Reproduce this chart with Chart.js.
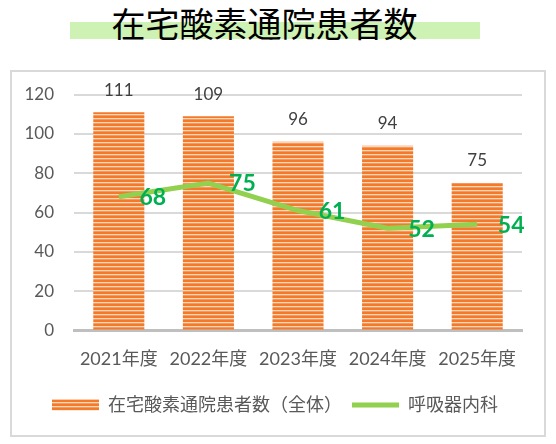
<!DOCTYPE html>
<html><head><meta charset="utf-8">
<script src="https://cdn.jsdelivr.net/npm/chart.js@4"></script>
<style>
html,body{margin:0;padding:0;background:#fff;}
#wrap{position:relative;width:556px;height:444px;overflow:hidden;background:#fff;}
#band{position:absolute;left:70px;top:22px;width:410px;height:17px;background:#CDF2B3;}
#title{position:absolute;left:0;top:4px;width:529px;text-align:center;font:34px/38px 'Noto Sans CJK JP',sans-serif;color:#000;}
#frame{position:absolute;left:10px;top:70px;width:536px;height:367px;border:2px solid #D9D9D9;box-sizing:border-box;}
#cv{position:absolute;left:0;top:0;}
</style></head>
<body>
<div id="wrap">
  <div id="band"></div>
  <div id="title">在宅酸素通院患者数</div>
  <div id="frame"></div>
  <canvas id="cv" width="556" height="444"></canvas>
</div>
<script>
const categories = ['2021年度', '2022年度', '2023年度', '2024年度', '2025年度'];
const totalPatients = [111, 109, 96, 94, 75];
const respiratory = [68, 75, 61, 52, 54];
const seriesNames = ['在宅酸素通院患者数（全体）', '呼吸器内科'];
const yMin = 0, yMax = 120, yStep = 20;

const FONT = "Lato, 'Noto Sans CJK JP', sans-serif";

function makePattern() {
  const c = document.createElement('canvas');
  c.width = 4; c.height = 4;
  const g = c.getContext('2d');
  const rows = ['#F37A2A', '#F37A2A', '#FBD6B9', '#F59A5C'];
  rows.forEach((col, i) => { g.fillStyle = col; g.fillRect(0, i, 4, 1); });
  return g.createPattern(c, 'repeat');
}
const barPattern = makePattern();

const labelPlugin = {
  id: 'valueLabels',
  afterLayout(chart) {
    const l = chart.legend;
    if (l) { l.left += 14; l.right += 14; }
  },
  afterDatasetsDraw(chart) {
    const ctx = chart.ctx;
    ctx.save();
    ctx.textAlign = 'center';
    ctx.textBaseline = 'middle';
    const bm = chart.getDatasetMeta(0);
    ctx.font = '17px ' + FONT;
    ctx.fillStyle = '#404040';
    bm.data.forEach((el, i) => ctx.fillText(String(totalPatients[i]), el.x, el.y - 22));
    const lm = chart.getDatasetMeta(1);
    ctx.font = 'bold 23px ' + FONT;
    ctx.fillStyle = '#00B050';
    lm.data.forEach((el, i) => ctx.fillText(String(respiratory[i]), el.x + 34, el.y + 1));
    ctx.restore();
  }
};

new Chart(document.getElementById('cv'), {
  data: {
    labels: categories,
    datasets: [
      {
        type: 'bar',
        label: seriesNames[0],
        data: totalPatients,
        backgroundColor: barPattern,
        borderWidth: 0,
        categoryPercentage: 1,
        barPercentage: 0.57,
        order: 1
      },
      {
        type: 'line',
        label: seriesNames[1],
        data: respiratory,
        borderColor: '#92D050',
        borderWidth: 5,
        pointRadius: 0,
        tension: 0,
        fill: false,
        order: 0
      }
    ]
  },
  options: {
    responsive: false,
    animation: false,
    layout: { padding: { left: 0, right: 34, top: 94.5, bottom: 20 } },
    plugins: {
      tooltip: { enabled: false },
      title: { display: false },
      legend: {
        position: 'bottom',
        labels: {
          usePointStyle: true,
          pointStyleWidth: 47,
          boxHeight: 11,
          padding: 10,
          color: '#595959',
          font: { size: 18, family: FONT },
          generateLabels() {
            return [
              { text: seriesNames[0], fillStyle: barPattern, strokeStyle: 'rgba(0,0,0,0)', lineWidth: 0, pointStyle: 'rect', datasetIndex: 0, hidden: false, fontColor: '#595959' },
              { text: seriesNames[1], fillStyle: '#92D050', strokeStyle: '#92D050', lineWidth: 5, pointStyle: 'line', datasetIndex: 1, hidden: false, fontColor: '#595959' }
            ];
          }
        }
      }
    },
    scales: {
      x: {
        grid: { display: false },
        border: { display: true, color: '#BFBFBF', width: 3 },
        ticks: { color: '#595959', font: { size: 18, family: FONT }, padding: 10, maxRotation: 0 },
        afterFit(scale) { scale.height = 55.5; }
      },
      y: {
        min: yMin, max: yMax,
        grid: {
          drawTicks: false,
          lineWidth: 2,
          color: (c) => (c.tick && c.tick.value === 0) ? 'rgba(0,0,0,0)' : '#D9D9D9'
        },
        border: { display: false },
        ticks: { stepSize: yStep, color: '#595959', font: { size: 17, family: FONT }, padding: 20 },
        afterFit(scale) { scale.width = 74; }
      }
    }
  },
  plugins: [labelPlugin]
});
</script>
</body></html>
